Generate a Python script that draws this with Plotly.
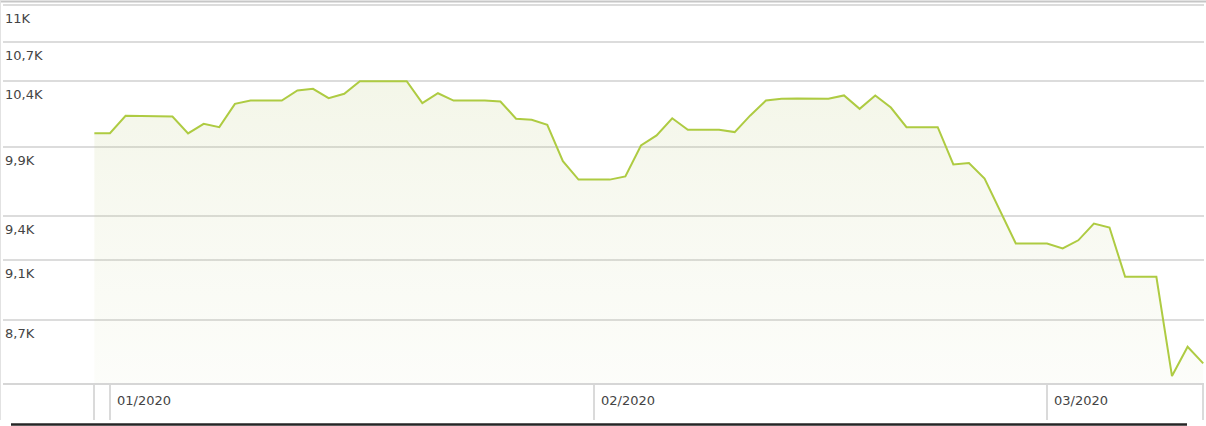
import plotly.graph_objects as go
import pandas as pd
import numpy as np

# ---- data ----
start_date = "2019-12-31"
values = [10000, 10000, 10130, 10127, 10125, 10125, 9998, 10070, 10045, 10221,
          10246, 10246, 10246, 10323, 10336, 10264, 10298, 10395, 10396, 10396,
          10395, 10226, 10302, 10246, 10246, 10246, 10239, 10108, 10100, 10063,
          9794, 9660, 9660, 9660, 9683, 9909, 9983, 10112, 10026, 10026,
          10026, 10008, 10133, 10246, 10259, 10262, 10262, 10259, 10285, 10183,
          10285, 10193, 10045, 10045, 10045, 9770, 9780, 9667, 9435, 9211,
          9211, 9211, 9177, 9233, 9349, 9321, 8985, 8985, 8985, 8345,
          8529, 8424]
dates = pd.date_range(start_date, periods=len(values), freq="D")
reference_value = 10000

y_tick_vals = [8700, 9100, 9400, 9900, 10400, 10700, 11000]
y_tick_text = ["8,7K", "9,1K", "9,4K", "9,9K", "10,4K", "10,7K", "11K"]
x_tick_dates = ["2020-01-01", "2020-02-01", "2020-03-01"]
x_tick_text = ["01/2020", "02/2020", "03/2020"]

# ---- layout geometry ----
W, H = 1206, 426
ML, MR, MT, MB = 3, 2, 4, 43
PW, PH = W - ML - MR, H - MT - MB

def pxx(px):
    return (px - ML) / PW

def pxy(py):
    return (H - MB - py) / PH

d0 = dates[0]
x_range = [d0 - pd.Timedelta(days=5.85), d0 + pd.Timedelta(days=71.05)]
y_range = [np.log10(8302), np.log10(11010)]

fig = go.Figure()
fig.add_trace(go.Scatter(
    x=dates, y=[8000] * len(values), mode="lines",
    line=dict(width=0), hoverinfo="skip", showlegend=False))
fig.add_trace(go.Scatter(
    x=dates, y=values, mode="lines",
    line=dict(color="#aecb42", width=2),
    fill="tonexty",
    fillgradient=dict(type="vertical",
                      colorscale=[[0, "rgba(200,210,150,0.03)"],
                                  [1, "rgba(188,202,122,0.17)"]]),
    showlegend=False))

shapes = [
    # reference line at starting value
    dict(type="line", xref="paper", yref="y", x0=0, x1=1,
         y0=np.log10(reference_value), y1=np.log10(reference_value),
         line=dict(color="#b8b8b8", width=2), layer="below"),
    # top border
    dict(type="line", xref="paper", yref="paper", x0=pxx(0), x1=pxx(W),
         y0=pxy(1.5), y1=pxy(1.5), line=dict(color="#c6c6c6", width=2)),
    # left border
    dict(type="line", xref="paper", yref="paper", x0=pxx(0.5), x1=pxx(0.5),
         y0=pxy(0), y1=pxy(420), line=dict(color="#e2e2e2", width=1)),
    # bottom dark bar
    dict(type="line", xref="paper", yref="paper", x0=pxx(11), x1=pxx(1187),
         y0=pxy(424.5), y1=pxy(424.5), line=dict(color="#262626", width=2.5)),
]

annotations = []
for v, t in zip(y_tick_vals, y_tick_text):
    annotations.append(dict(
        x=0, xref="paper", y=np.log10(v), yref="y", text=t, showarrow=False,
        xanchor="left", yanchor="top", xshift=0, yshift=-4,
        font=dict(family="DejaVu Sans", size=13, color="#444444")))
for d, t in zip(x_tick_dates, x_tick_text):
    annotations.append(dict(
        x=d, xref="x", y=0, yref="paper", text=t, showarrow=False,
        xanchor="left", yanchor="middle", xshift=5, yshift=-17,
        font=dict(family="DejaVu Sans", size=13, color="#444444")))

fig.update_layout(
    width=W, height=H,
    margin=dict(l=ML, r=MR, t=MT, b=MB),
    paper_bgcolor="white", plot_bgcolor="white",
    shapes=shapes, annotations=annotations,
    showlegend=False,
    xaxis=dict(
        type="date", range=x_range,
        tickvals=[dates[0]] + list(pd.to_datetime(x_tick_dates)) + [dates[-1]],
        showticklabels=False, ticks="outside", ticklen=35,
        tickcolor="#dadada", tickwidth=1.5,
        showgrid=False, zeroline=False,
        showline=True, linecolor="#d6d6d6", linewidth=2),
    yaxis=dict(
        type="log", range=y_range,
        tickvals=y_tick_vals, showticklabels=False, ticks="",
        showgrid=True, gridcolor="#dcdcdc", gridwidth=2,
        zeroline=False, showline=False),
)

fig.write_html("out.html",
               config={"displayModeBar": False},
               post_script="document.body.style.margin='0';"
                           "document.body.style.overflow='hidden';")
